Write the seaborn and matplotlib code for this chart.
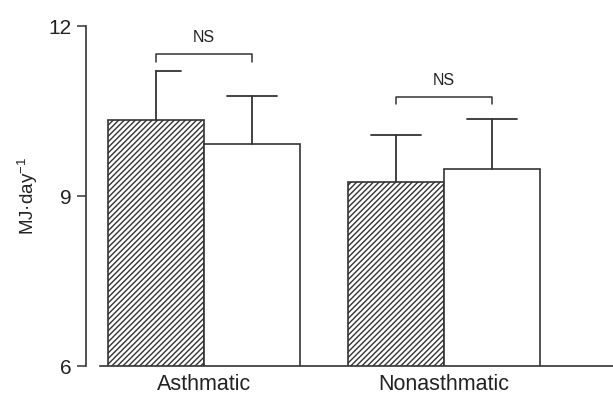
import matplotlib
matplotlib.use('Agg')
import matplotlib.pyplot as plt
import seaborn as sns
import pandas as pd
from matplotlib import font_manager

# ---- data ----
groups = ['Asthmatic', 'Nonasthmatic']
conditions = ['Condition 1', 'Condition 2']          # hatched, open
means_c1 = [10.34, 9.24]
means_c2 = [9.91, 9.48]
err_c1 = [0.86, 0.83]
err_c2 = [0.855, 0.88]
ns_labels = ['NS', 'NS']
ns_bracket_top = [11.51, 10.75]
ns_bracket_leg = [11.365, 10.62]
ns_text_y = [11.80, 11.04]
y_ticks = [6, 9, 12]

sns.set_theme(style='ticks')
avail = {f.name for f in font_manager.fontManager.ttflist}
fam = ['Liberation Sans Narrow'] if 'Liberation Sans Narrow' in avail else ['Liberation Sans']
narrow = fam[0] == 'Liberation Sans Narrow'
plt.rcParams['font.family'] = fam + ['DejaVu Sans']
plt.rcParams['mathtext.default'] = 'regular'
plt.rcParams['hatch.linewidth'] = 1.0

ink = '#333333'

df = pd.DataFrame({
    'group': groups * 2,
    'cond': [conditions[0]] * 2 + [conditions[1]] * 2,
    'value': means_c1 + means_c2,
})

fig = plt.figure(figsize=(6.13, 4.01), dpi=100)
ax = fig.add_axes([100 / 613, 35 / 401, 513 / 613, 340 / 401])

sns.barplot(data=df, x='group', y='value', hue='cond', order=groups,
            hue_order=conditions, palette=['white', 'white'], edgecolor=ink,
            linewidth=1.2, width=0.8, errorbar=None, legend=False, ax=ax)

for bar in ax.containers[0]:
    bar.set_hatch('//////')
    bar.set_edgecolor(ink)

# error bars (upper only)
errs = [err_c1, err_c2]
cap = 0.104
cap_left = [[0.0, cap], [cap, cap]]   # first hatched bar shows a right-half cap only
centers = {}
for ci, cont in enumerate(ax.containers):
    for gi, bar in enumerate(cont):
        xc = bar.get_x() + bar.get_width() / 2
        top = bar.get_y() + bar.get_height()
        e = errs[ci][gi]
        centers[(ci, gi)] = xc
        ax.plot([xc, xc], [top, top + e], color=ink, lw=1.3, zorder=3)
        ax.plot([xc - cap_left[ci][gi], xc + cap], [top + e, top + e],
                color=ink, lw=1.3, zorder=3)

# NS brackets
for gi in range(len(groups)):
    x1, x2 = centers[(0, gi)], centers[(1, gi)]
    ax.plot([x1, x1, x2, x2],
            [ns_bracket_leg[gi], ns_bracket_top[gi], ns_bracket_top[gi], ns_bracket_leg[gi]],
            color=ink, lw=1.1)
    ax.text((x1 + x2) / 2, ns_text_y[gi], ns_labels[gi], ha='center', va='center',
            fontsize=12 if narrow else 11.5, color='#222222')

ax.set_ylim(6, 12)
ax.set_xlim(-0.435, 1.705)
ax.set_yticks(y_ticks)
ax.set_yticklabels([str(t) for t in y_ticks])
ax.set_xlabel('')
ax.set_ylabel('MJ·day$^{-1}$', fontsize=13.5 if narrow else 13.5, color='#222222', labelpad=6)

ax.tick_params(axis='y', length=6.5, width=1.1, color=ink, pad=4,
               labelsize=16.5 if narrow else 15, labelcolor='#222222')
ax.tick_params(axis='x', length=0, pad=6, labelsize=18 if narrow else 15.5,
               labelcolor='#222222')

sns.despine(ax=ax, offset={'left': 10})
for s in ['left', 'bottom']:
    ax.spines[s].set_color(ink)
    ax.spines[s].set_linewidth(1.2)

fig.savefig('out.png', dpi=100)
